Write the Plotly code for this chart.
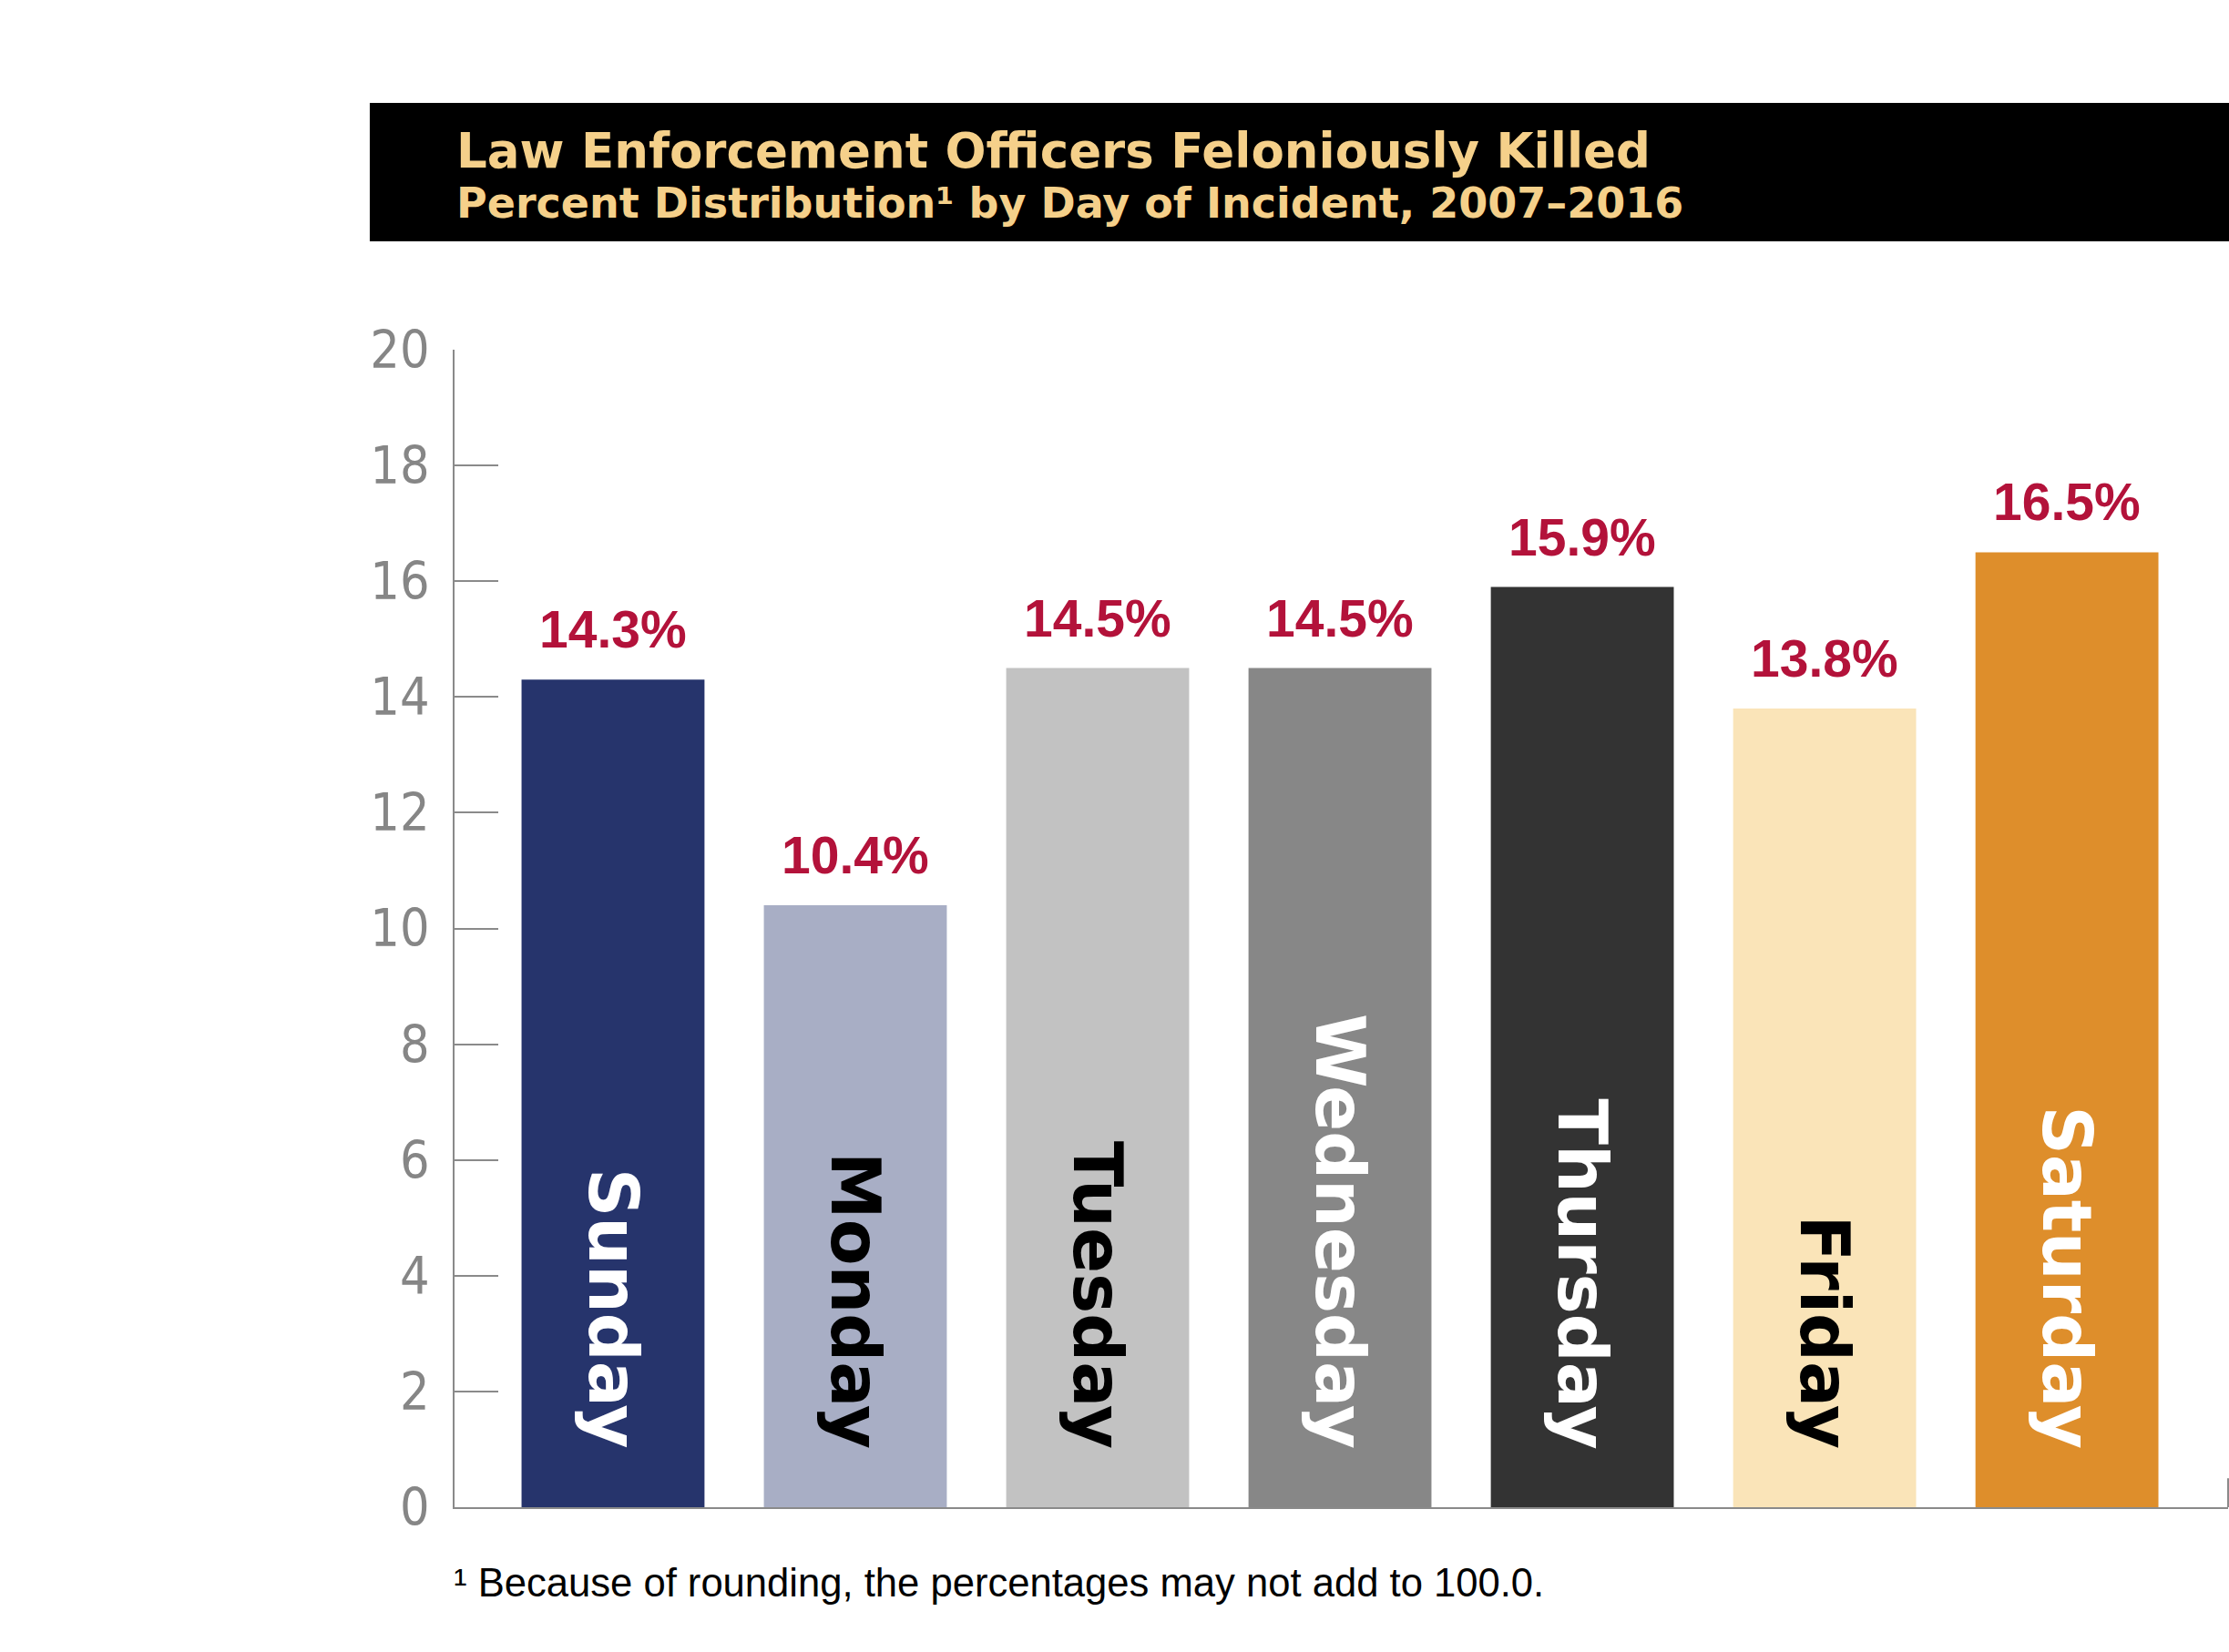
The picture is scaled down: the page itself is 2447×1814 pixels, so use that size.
import plotly.graph_objects as go

days = ["Sunday", "Monday", "Tuesday", "Wednesday", "Thursday", "Friday", "Saturday"]
percents = [14.3, 10.4, 14.5, 14.5, 15.9, 13.8, 16.5]
bar_colors = ["#26346C", "#A8AEC5", "#C2C2C2", "#878787", "#333333", "#FAE4B8", "#DE8E2B"]
day_text_colors = ["white", "black", "black", "white", "white", "black", "white"]
y_ticks = [0, 2, 4, 6, 8, 10, 12, 14, 16, 18, 20]

title_line1 = "Law Enforcement Officers Feloniously Killed"
title_line2 = "Percent Distribution¹ by Day of Incident, 2007–2016"
footnote = "¹ Because of rounding, the percentages may not add to 100.0."

fig = go.Figure()
fig.add_trace(go.Bar(
    x=days, y=percents,
    marker=dict(color=bar_colors, line=dict(width=0)),
    width=0.755,
    hoverinfo="skip",
))

annotations = []
for d, v in zip(days, percents):
    annotations.append(dict(
        x=d, y=v, xref="x", yref="y", text=f"{v:.1f}%", showarrow=False,
        yanchor="bottom", xanchor="center", yshift=21,
        font=dict(family="Liberation Sans, Arial, sans-serif", size=57, color="#B3123A", weight="bold"),
    ))
for d, c in zip(days, day_text_colors):
    annotations.append(dict(
        x=d, y=0, xref="x", yref="y", text=d, showarrow=False,
        textangle=90, yanchor="bottom", xanchor="center", yshift=62,
        font=dict(family="DejaVu Sans, sans-serif", size=74, color=c, weight="bold"),
    ))

annotations.append(dict(
    x=0, y=1.1722, xref="paper", yref="paper", text=title_line1, showarrow=False,
    xanchor="left", yanchor="middle",
    font=dict(family="DejaVu Sans, sans-serif", size=53, color="#F5D08A", weight="bold"),
))
annotations.append(dict(
    x=0, y=1.1265, xref="paper", yref="paper", text=title_line2, showarrow=False,
    xanchor="left", yanchor="middle",
    font=dict(family="DejaVu Sans, sans-serif", size=46, color="#F5D08A", weight="bold"),
))
annotations.append(dict(
    x=-0.0015, y=-0.0650, xref="paper", yref="paper", text=footnote, showarrow=False,
    xanchor="left", yanchor="middle",
    font=dict(family="Liberation Sans, Arial, sans-serif", size=43.6, color="black"),
))

shapes = [
    dict(type="rect", xref="paper", yref="paper", x0=-0.0478, x1=1.001, y0=1.0936, y1=1.2132,
         fillcolor="black", line=dict(width=0), layer="below"),
    dict(type="line", xref="paper", yref="y", x0=1, x1=1, y0=0, y1=0.5,
         line=dict(color="#8A8A8A", width=2)),
]

fig.update_layout(
    width=2447, height=1814,
    margin=dict(l=499, r=1, t=384, b=159),
    paper_bgcolor="white", plot_bgcolor="white",
    showlegend=False,
    annotations=annotations,
    shapes=shapes,
    xaxis=dict(
        range=[-0.654, 6.665], showticklabels=False, ticks="", showgrid=False,
        showline=True, linecolor="#8A8A8A", linewidth=2, zeroline=False, fixedrange=True,
    ),
    yaxis=dict(
        range=[0, 20], tickvals=y_ticks, ticktext=[str(t) for t in y_ticks],
        ticks="inside", ticklen=48, tickwidth=2, tickcolor="#8A8A8A",
        showline=True, linecolor="#8A8A8A", linewidth=2, showgrid=False, zeroline=False,
        ticklabelstandoff=14,
        tickfont=dict(family="Liberation Sans Narrow, Arial Narrow, DejaVu Sans Condensed, sans-serif", size=57, color="#868686"),
    ),
)

fig.write_html("out.html")
